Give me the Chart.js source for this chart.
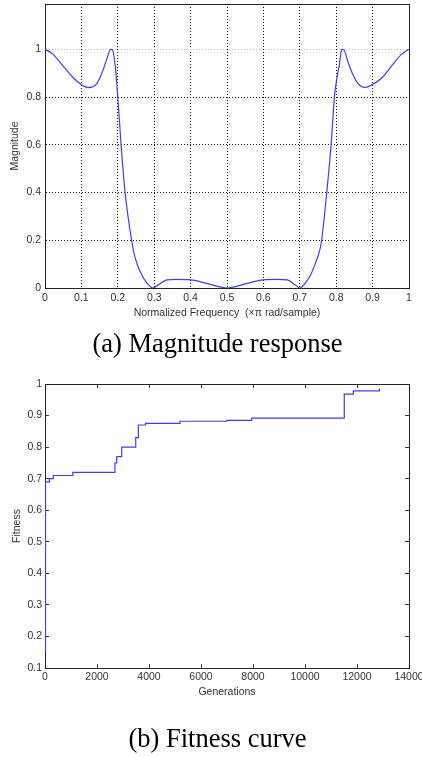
<!DOCTYPE html>
<html>
<head>
<meta charset="utf-8">
<script src="https://cdn.jsdelivr.net/npm/chart.js@4.4.1/dist/chart.umd.min.js"></script>
<style>
  body { margin: 0; background: #fff; width: 422px; height: 757px; position: relative; overflow: hidden; }
  canvas { position: absolute; left: 0; }
  .cap { position: absolute; left: 0; width: 435px; text-align: center; font-family: "Liberation Serif", "Times New Roman", serif; font-size: 26.5px; line-height: 30px; color: #000; }
</style>
</head>
<body>
<canvas id="magChart" width="422" height="330" style="top:0"></canvas>
<div class="cap" style="top:328px">(a) Magnitude response</div>
<canvas id="fitChart" width="422" height="330" style="top:370px"></canvas>
<div class="cap" style="top:723px">(b) Fitness curve</div>
<script>
// --- dados (a): resposta em magnitude ---
const freq = [0, 0.02, 0.05, 0.075, 0.1, 0.12, 0.14, 0.155, 0.17, 0.18, 0.185, 0.193, 0.2, 0.209, 0.22, 0.238, 0.247, 0.261, 0.28, 0.297,
  0.31, 0.335, 0.36, 0.4, 0.45, 0.5, 0.55, 0.6, 0.64, 0.665, 0.69, 0.70, 0.715, 0.728, 0.742, 0.755, 0.76, 0.774, 0.786, 0.795,
  0.802, 0.808, 0.815, 0.82, 0.833, 0.847, 0.861, 0.879, 0.897, 0.925, 0.952, 0.98, 1];
const magnitude = [1.0, 0.982, 0.93, 0.885, 0.852, 0.84, 0.852, 0.895, 0.96, 1.0, 0.998, 0.93, 0.80, 0.60, 0.40, 0.20, 0.13, 0.07, 0.02, 0.0,
  0.012, 0.034, 0.036, 0.034, 0.017, 0.0, 0.017, 0.034, 0.036, 0.034, 0.01, 0.0, 0.02, 0.05, 0.10, 0.16, 0.20, 0.40, 0.60, 0.80,
  0.88, 0.93, 0.998, 1.0, 0.944, 0.89, 0.854, 0.84, 0.85, 0.88, 0.93, 0.98, 1.0];

// --- dados (b): curva de fitness ---
const generations = [20, 20, 170, 320, 1070, 2690, 2760, 2950, 3490, 3590, 3870, 5190, 6990, 7950, 11510, 11860, 12860];
const fitness = [0.15, 0.69, 0.70, 0.71, 0.72, 0.75, 0.77, 0.80, 0.83, 0.87, 0.875, 0.882, 0.885, 0.892, 0.968, 0.978, 0.986];

const blue = 'rgb(60,60,255)';
const tickFont = { family: '"Liberation Sans", Arial, sans-serif', size: 10.5 };
const titleFont = { family: '"Liberation Sans", Arial, sans-serif', size: 10.5 };
const fmt = (v) => String(+Number(v).toFixed(3)); // 1 em vez de 1.0, 2000 sem virgula

// tamanho fixo para cada eixo, assim a area do grafico fica onde queremos
function fixSize(size) {
  return function (scale) {
    if (scale.isHorizontal()) scale.height = size; else scale.width = size;
    scale.paddingLeft = scale.paddingRight = scale.paddingTop = scale.paddingBottom = 0;
  };
}

const hiddenAxis = (pos, min, max) => ({
  type: 'linear', position: pos, min: min, max: max,
  ticks: { display: false },
  grid: { display: false },
  border: { display: true, color: '#222', width: 1 },
  afterFit: fixSize(0)
});

new Chart(document.getElementById('magChart'), {
  type: 'line',
  data: {
    datasets: [{
      data: freq.map((f, i) => ({ x: f, y: magnitude[i] })),
      borderColor: blue,
      borderWidth: 1.2,
      pointRadius: 0,
      cubicInterpolationMode: 'monotone'
    }]
  },
  options: {
    responsive: false,
    animation: false,
    layout: { padding: { left: 0, top: 4, right: 13, bottom: 0 } },
    plugins: { legend: { display: false }, tooltip: { enabled: false } },
    scales: {
      x: {
        type: 'linear', min: 0, max: 1,
        ticks: { stepSize: 0.1, color: '#333', font: tickFont, padding: 4, maxRotation: 0, callback: fmt },
        grid: { color: '#111', lineWidth: 1, drawTicks: false },
        border: { display: true, color: '#222', dash: [1, 2] },
        title: { display: true, text: 'Normalized Frequency  (\u00d7\u03c0 rad/sample)', color: '#333', font: titleFont, padding: { top: 0, bottom: 11 } },
        afterFit: fixSize(42)
      },
      y: {
        type: 'linear', min: 0, max: 1.19,
        ticks: { stepSize: 0.2, color: '#333', font: tickFont, padding: 4, callback: fmt },
        afterBuildTicks: (s) => { s.ticks = s.ticks.filter(t => t.value <= 1.0001); },
        grid: { color: (c) => (c.tick && Math.abs(c.tick.value - 1) < 1e-6) ? '#bbb' : '#111', lineWidth: 1, drawTicks: false },
        border: { display: true, color: '#222', dash: [1, 2] },
        title: { display: true, text: 'Magnitude', color: '#333', font: titleFont, padding: { top: 9, bottom: 0 } },
        afterFit: fixSize(45)
      },
      x2: hiddenAxis('top', 0, 1),
      y2: hiddenAxis('right', 0, 1.19)
    }
  }
});

const tickAxis = (pos, min, max, step) => ({
  type: 'linear', position: pos, min: min, max: max,
  ticks: { display: false, stepSize: step },
  grid: { color: '#333', drawOnChartArea: false, tickLength: -4 },
  border: { display: true, color: '#222', width: 1 },
  afterFit: fixSize(0)
});

new Chart(document.getElementById('fitChart'), {
  type: 'line',
  data: {
    datasets: [{
      data: generations.map((g, i) => ({ x: g, y: fitness[i] })),
      borderColor: blue,
      borderWidth: 1.2,
      pointRadius: 0,
      stepped: true
    }]
  },
  options: {
    responsive: false,
    animation: false,
    layout: { padding: { left: 0, top: 14, right: 13, bottom: 0 } },
    plugins: { legend: { display: false }, tooltip: { enabled: false } },
    scales: {
      x: {
        type: 'linear', min: 0, max: 14000,
        ticks: { stepSize: 2000, color: '#333', font: tickFont, padding: 7, maxRotation: 0, callback: fmt },
        grid: { color: '#333', drawOnChartArea: false, tickLength: -4 },
        border: { display: true, color: '#222' },
        title: { display: true, text: 'Generations', color: '#333', font: titleFont, padding: { top: 0, bottom: 2 } },
        afterFit: fixSize(32)
      },
      y: {
        type: 'linear', min: 0.1, max: 1,
        ticks: { stepSize: 0.1, color: '#333', font: tickFont, padding: 7, callback: fmt },
        grid: { color: '#333', drawOnChartArea: false, tickLength: -4 },
        border: { display: true, color: '#222' },
        title: { display: true, text: 'Fitness', color: '#333', font: titleFont, padding: { top: 11, bottom: 0 } },
        afterFit: fixSize(45)
      },
      x2: tickAxis('top', 0, 14000, 2000),
      y2: tickAxis('right', 0.1, 1, 0.1)
    }
  }
});
</script>
</body>
</html>
